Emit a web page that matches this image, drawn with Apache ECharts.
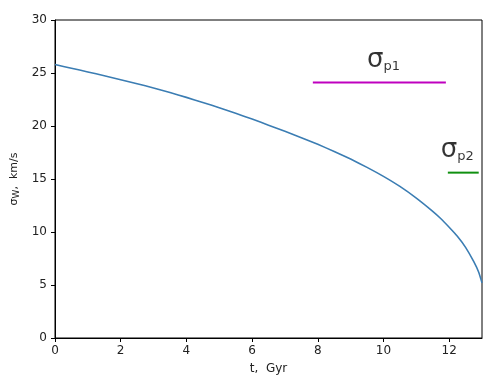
<!DOCTYPE html>
<html><head><meta charset="utf-8">
<script src="https://cdn.jsdelivr.net/npm/echarts@6/dist/echarts.min.js"></script>
<style>html,body{margin:0;padding:0;background:#fff}#c{width:493px;height:389px}</style>
</head><body><div id="c"></div>
<script>
const tValues = [0, 0.5, 1, 1.5, 2, 2.5, 3, 3.5, 4, 4.5, 5, 5.5, 6, 6.5, 7, 7.5, 8, 8.5, 9, 9.5, 10, 10.5, 11, 11.5, 11.75, 12, 12.25, 12.5, 12.75, 12.9, 13];
const sigmaW  = [25.8, 25.45, 25.1, 24.74, 24.37, 23.99, 23.59, 23.16, 22.7, 22.22, 21.72, 21.2, 20.65, 20.08, 19.5, 18.9, 18.27, 17.6, 16.88, 16.1, 15.25, 14.3, 13.2, 11.95, 11.25, 10.45, 9.6, 8.55, 7.2, 6.2, 5.2];
const sigmaP1 = [[7.85, 24.1], [11.9, 24.1]];
const sigmaP2 = [[11.96, 15.6], [12.9, 15.6]];
const labelP1 = [10.0, 26.4];
const labelP2 = [12.25, 17.9];

const chart = echarts.init(document.getElementById('c'));
const font = 'DejaVu Sans';
const sig = (sub) => ({
  show: true, position: 'inside',
  formatter: '{s|σ}{b|' + sub + '}',
  rich: {
    s: {fontSize: 26, fontFamily: font, color: '#000', verticalAlign: 'bottom', lineHeight: 30},
    b: {fontSize: 13, fontFamily: font, color: '#000', verticalAlign: 'bottom', lineHeight: 18}
  }
});
chart.setOption({
  animation: false,
  grid: {left: 55, right: 11, top: 20, bottom: 51, show: true, borderColor: '#000', borderWidth: 1},
  xAxis: {
    type: 'value', min: 0, max: 13, interval: 2,
    name: 't,  Gyr', nameLocation: 'middle', nameGap: 25,
    nameTextStyle: {fontFamily: font, fontSize: 12, color: '#222'},
    axisLine: {show: true, lineStyle: {color: '#000'}},
    axisTick: {show: true, length: 4, lineStyle: {color: '#000'}},
    axisLabel: {fontFamily: font, fontSize: 12, color: '#222', margin: 7, showMaxLabel: false},
    splitLine: {show: false}
  },
  yAxis: {
    type: 'value', min: 0, max: 30, interval: 5,
    name: '{a|σ}{w|W}{a|,  km/s}', nameLocation: 'middle', nameGap: 31,
    nameTextStyle: {rich: {
      a: {fontFamily: font, fontSize: 11, color: '#222'},
      w: {fontFamily: font, fontSize: 9, color: '#222', verticalAlign: 'bottom', padding: [4, 0, 0, 0]}
    }},
    axisLine: {show: true, lineStyle: {color: '#000'}},
    axisTick: {show: true, length: 4, lineStyle: {color: '#000'}},
    axisLabel: {fontFamily: font, fontSize: 12, color: '#222', margin: 8},
    splitLine: {show: false}
  },
  series: [
    {type: 'line', data: tValues.map((t, i) => [t, sigmaW[i]]), smooth: 0.15, showSymbol: false,
     lineStyle: {color: '#3b7db3', width: 1.6}},
    {type: 'line', data: sigmaP1, showSymbol: false, lineStyle: {color: '#bf00bf', width: 2}},
    {type: 'line', data: sigmaP2, showSymbol: false, lineStyle: {color: '#109010', width: 2}},
    {type: 'scatter', symbolSize: 1, itemStyle: {color: 'rgba(0,0,0,0)'},
     data: [{value: labelP1, label: sig('p1')}, {value: labelP2, label: sig('p2')}]}
  ]
});
</script></body></html>
